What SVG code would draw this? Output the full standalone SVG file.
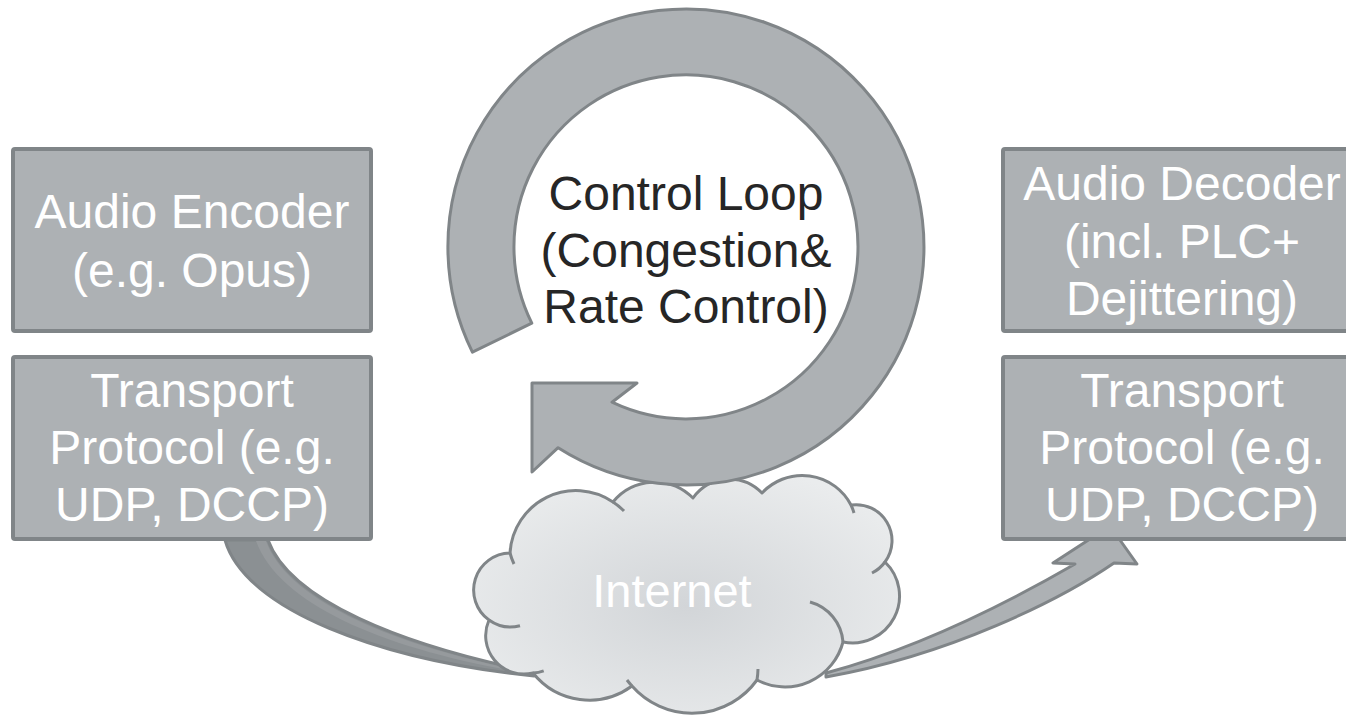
<svg xmlns="http://www.w3.org/2000/svg" width="1346" height="715" viewBox="0 0 1346 715">
  <defs>
    <radialGradient id="cloudFill" cx="0.5" cy="0.55" r="0.6">
      <stop offset="0" stop-color="#d2d5d8"/>
      <stop offset="1" stop-color="#eaeced"/>
    </radialGradient>
  </defs>
  <style>
    .box { fill: #adb1b4; stroke: #808588; stroke-width: 4; }
    .wt { font-family: "Liberation Sans", Arial, sans-serif; font-size: 48px; fill: #ffffff; text-anchor: middle; }
    .dk { font-family: "Liberation Sans", Arial, sans-serif; font-size: 48px; fill: #262626; text-anchor: middle; }
    .edge { stroke: #808588; stroke-width: 3; stroke-linejoin: round; }
    .inner { fill: none; stroke: #808588; stroke-width: 3; stroke-linecap: butt; }
  </style>

  <rect x="0" y="0" width="1346" height="715" fill="#ffffff"/>

  <g id="connectors">
    <path class="edge" fill="#8b9093" d="M 225,540 C 245,610 380,660 534,676 L 534,672 C 400,645 290,600 268,540 Z"/>
    <path fill="#969a9d" d="M 266,541 C 288,602 398,647 532,673 L 532,674 C 393,652 280,607 256,541 Z"/>
    <path class="edge" fill="#adb1b4" d="M 826,677 C 950,655 1060,600 1114,563 L 1137,564 L 1110,526 L 1053,563 L 1075,564 C 1030,590 930,645 826,673 Z"/>
  </g>

  <g id="internet">
    <path fill="url(#cloudFill)" class="edge" d="M 489,620 A 37 37 0 0 1 510,553 A 66 66 0 0 1 613,502 A 54 54 0 0 1 693,498 A 45 45 0 0 1 762,493 A 55 55 0 0 1 851,505 A 36 36 0 0 1 885,562 A 47 47 0 0 1 843,642 A 60 60 0 0 1 757,680 A 80 80 0 0 1 632,686 A 72 72 0 0 1 533,673 A 38.4 38.4 0 0 1 489,620 Z"/>
    <path class="inner" d="M 489,620 A 37 37 0 0 0 520,625.7"/>
    <path class="inner" d="M 510,553 A 66 66 0 0 0 514,564"/>
    <path class="inner" d="M 613,502 A 66 66 0 0 1 624,511"/>
    <path class="inner" d="M 851,505 A 55 55 0 0 1 854,513"/>
    <path class="inner" d="M 885,562 A 36 36 0 0 1 872,573"/>
    <path class="inner" d="M 810,602 A 45 45 0 0 1 843,642"/>
    <path class="inner" d="M 757,680 A 80 80 0 0 0 758,669"/>
    <path class="inner" d="M 632,686 A 80 80 0 0 1 627,680"/>
    <path class="inner" d="M 533,673 A 38.4 38.4 0 0 0 543.7,670.8"/>
    <text class="wt" x="672" y="607" style="font-size:47px">Internet</text>
  </g>

  <g id="control-loop">
    <path class="edge" fill="#adb1b4" d="M 472.4,352.1 A 238 238 0 1 1 558.1,447.7 L 532,472 L 532,383 L 637,383 L 612,402.2 A 172 172 0 1 0 531.8,323.2 Z"/>
    <text class="dk" x="686" y="210">Control Loop</text>
    <text class="dk" x="686" y="267">(Congestion&amp;</text>
    <text class="dk" x="686" y="323">Rate Control)</text>
  </g>

  <g id="audio-encoder">
    <rect class="box" x="13" y="149" width="358" height="182" rx="2"/>
    <text class="wt" x="192" y="228">Audio Encoder</text>
    <text class="wt" x="192" y="287">(e.g. Opus)</text>
  </g>

  <g id="transport-left">
    <rect class="box" x="13" y="357" width="358" height="182" rx="2"/>
    <text class="wt" x="192" y="407">Transport</text>
    <text class="wt" x="192" y="464">Protocol (e.g.</text>
    <text class="wt" x="192" y="521">UDP, DCCP)</text>
  </g>

  <g id="audio-decoder">
    <rect class="box" x="1003" y="149" width="400" height="182" rx="2"/>
    <text class="wt" x="1182" y="200">Audio Decoder</text>
    <text class="wt" x="1182" y="258">(incl. PLC+</text>
    <text class="wt" x="1182" y="315">Dejittering)</text>
  </g>

  <g id="transport-right">
    <rect class="box" x="1003" y="357" width="400" height="182" rx="2"/>
    <text class="wt" x="1182" y="407">Transport</text>
    <text class="wt" x="1182" y="464">Protocol (e.g.</text>
    <text class="wt" x="1182" y="521">UDP, DCCP)</text>
  </g>
</svg>
